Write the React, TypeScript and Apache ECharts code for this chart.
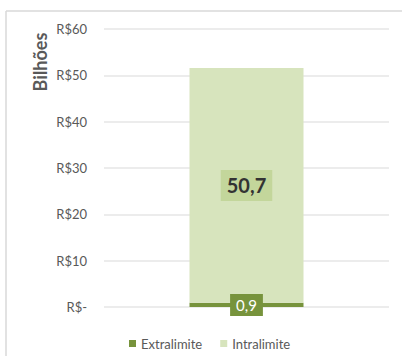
import React, { useEffect, useRef } from "react";
import * as echarts from "echarts";

const categories = ["Total"];
const extralimite = [0.9];
const intralimite = [50.7];
const yTicks = { min: 0, max: 60, interval: 10 };
const axisName = "Bilhões";
const seriesNames = ["Extralimite", "Intralimite"];

const fmt = (v: number) => v.toFixed(1).replace(".", ",");

export default function App() {
  const ref = useRef<HTMLDivElement>(null);
  useEffect(() => {
    document.body.style.margin = "0";
    const chart = echarts.init(ref.current!, null, { renderer: "svg" });
    const font = "Lato, 'Open Sans', sans-serif";
    chart.setOption({
      animation: false,
      backgroundColor: "#ffffff",
      textStyle: { fontFamily: font },
      grid: { left: 104, right: 13, top: 29, bottom: 49 },
      xAxis: {
        type: "category",
        data: categories,
        axisLine: { show: false },
        axisTick: { show: false },
        axisLabel: { show: false },
      },
      yAxis: {
        type: "value",
        min: yTicks.min,
        max: yTicks.max,
        interval: yTicks.interval,
        axisLine: { show: false },
        axisTick: { show: false },
        splitLine: { lineStyle: { color: "#e6e6e6", width: 1.5 } },
        axisLabel: {
          margin: 17,
          color: "#595959",
          fontSize: 13,
          fontFamily: font,
          formatter: (v: number) => (v === 0 ? "R$-" : "R$" + v),
        },
      },
      legend: {
        left: 124,
        top: 332,
        itemWidth: 7,
        itemHeight: 7,
        itemGap: 18,
        icon: "rect",
        textStyle: { color: "#595959", fontSize: 13, fontFamily: font },
        data: seriesNames,
      },
      graphic: [
        { type: "line", shape: { x1: 6, y1: 11, x2: 402, y2: 11 }, style: { stroke: "#d9d9d9", lineWidth: 1.5 } },
        { type: "line", shape: { x1: 6, y1: 11, x2: 6, y2: 356 }, style: { stroke: "#d9d9d9", lineWidth: 1.5 } },
        {
          type: "text",
          x: 40,
          y: 62,
          rotation: Math.PI / 2,
          style: {
            text: axisName,
            fill: "#595959",
            font: "bold 18px " + font,
            align: "center",
            verticalAlign: "middle",
          },
        },
      ],
      series: [
        {
          name: seriesNames[0],
          type: "bar",
          stack: "total",
          barWidth: 114,
          data: extralimite,
          itemStyle: { color: "#77933c" },
          label: {
            show: true,
            position: "inside",
            formatter: (p: any) => fmt(p.value),
            color: "#ffffff",
            fontSize: 15,
            fontFamily: font,
            backgroundColor: "#77933c",
            padding: [4, 6, 3, 6],
          },
        },
        {
          name: seriesNames[1],
          type: "bar",
          stack: "total",
          barWidth: 114,
          data: intralimite,
          itemStyle: { color: "#d7e4bd" },
          label: {
            show: true,
            position: "inside",
            formatter: (p: any) => fmt(p.value),
            color: "#333333",
            fontSize: 20,
            fontWeight: "bold",
            fontFamily: font,
            backgroundColor: "#c3d69b",
            padding: [6, 6, 5, 6],
          },
        },
      ],
    });
    return () => chart.dispose();
  }, []);
  return <div ref={ref} style={{ width: 402, height: 356 }} />;
}
